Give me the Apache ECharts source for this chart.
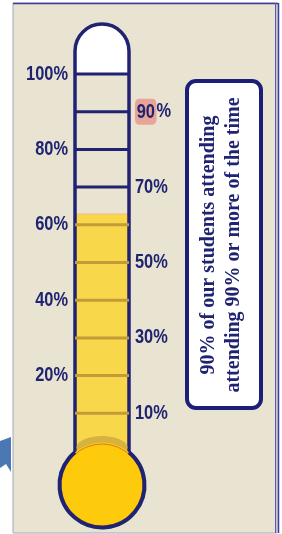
<!DOCTYPE html>
<html>
<head>
<meta charset="utf-8">
<title>Attendance thermometer</title>
<script src="https://cdn.jsdelivr.net/npm/echarts@6/dist/echarts.min.js"></script>
<style>
  html, body { margin: 0; padding: 0; background: #ffffff; }
  #main { width: 282px; height: 534px; }
</style>
</head>
<body>
<div id="main"></div>
<script>
// data
const category = ['Attendance'];
const fillValue = [63];
const tickValues = [10, 20, 30, 40, 50, 60, 70, 80, 90, 100];
const leftLabels = [20, 40, 60, 80, 100];
const rightLabels = [10, 30, 50, 70, 90];
const highlightLabel = 90;
const noteLines = ['90% of our students attending', 'attending 90% or more of the time'];

const NAVY = '#1F2372';
const OLIVE = '#C29C37';

const chart = echarts.init(document.getElementById('main'));

// glass: dome, tube sides, bulb
function renderFrame(params, api) {
  const cs = params.coordSys;
  const left = cs.x, right = cs.x + cs.width;
  const cx = cs.x + cs.width / 2;
  const half = cs.width / 2;
  const y100 = api.coord([0, 100])[1];
  const y0 = api.coord([0, 0])[1];
  const domeCy = y100 - 23;
  const bulbCy = y0 + 34;
  const bulbR = 42.5;
  const a = Math.asin(half / bulbR);
  return {
    type: 'group',
    children: [
      { type: 'rect', shape: { x: left, y: domeCy - half, width: cs.width, height: y100 - domeCy + half, r: [half, half, 0, 0] },
        style: { fill: '#ffffff' } },
      { type: 'arc', shape: { cx: cx, cy: domeCy, r: half, startAngle: Math.PI, endAngle: 2 * Math.PI },
        style: { stroke: NAVY, lineWidth: 3.5, fill: null } },
      { type: 'line', shape: { x1: left, y1: domeCy, x2: left, y2: bulbCy - 20 }, style: { stroke: NAVY, lineWidth: 3.5 } },
      { type: 'line', shape: { x1: right, y1: domeCy, x2: right, y2: bulbCy - 20 }, style: { stroke: NAVY, lineWidth: 3.5 } },
      // shadow at the neck
      { type: 'circle', shape: { cx: 0, cy: 0, r: half - 1.5 }, x: cx, y: bulbCy - bulbR + 5, scaleY: 0.45,
        style: { fill: '#D6B241' } },
      { type: 'circle', shape: { cx: cx, cy: bulbCy, r: bulbR }, style: { fill: '#FDCB0C' } },
      { type: 'circle', shape: { cx: cx, cy: bulbCy, r: bulbR - 1.5 }, style: { fill: null, stroke: '#D4542C', lineWidth: 1, opacity: 0.7 } },
      { type: 'arc', shape: { cx: cx, cy: bulbCy, r: bulbR, startAngle: -Math.PI / 2 + a, endAngle: 1.5 * Math.PI - a },
        style: { stroke: NAVY, lineWidth: 4, fill: null } }
    ]
  };
}

// one graduation line per tick value
function renderTick(params, api) {
  const cs = params.coordSys;
  const v = api.value(1);
  const y = api.coord([0, v])[1];
  return {
    type: 'line',
    shape: { x1: cs.x, y1: y, x2: cs.x + cs.width, y2: y },
    style: { stroke: v <= fillValue[0] ? OLIVE : NAVY, lineWidth: 3 }
  };
}

// percentage labels, condensed, on both sides of the tube
function renderLabel(params, api) {
  const cs = params.coordSys;
  const v = api.value(1);
  const onLeft = api.value(2) === 0;
  const y = api.coord([0, v])[1];
  const txt = v === highlightLabel ? '{hl|' + v + '}%' : v + '%';
  return {
    type: 'text',
    x: onLeft ? cs.x - 7 : cs.x + cs.width + 6,
    y: y,
    scaleX: 0.82,
    style: {
      text: txt, fill: NAVY,
      font: "bold 20px 'Liberation Sans', Arial, sans-serif",
      align: onLeft ? 'right' : 'left', verticalAlign: 'middle',
      rich: {
        hl: {
          fill: NAVY, font: "bold 20px 'Liberation Sans', Arial, sans-serif",
          backgroundColor: '#E8A597', borderRadius: 5, padding: [4, 2, 2, 2]
        }
      }
    }
  };
}

const option = {
  backgroundColor: '#ffffff',
  animation: false,
  grid: { left: 75, width: 54, top: 74, bottom: 83 },
  xAxis: { type: 'category', data: category, show: false },
  yAxis: {
    type: 'value', min: 0, max: 100, interval: 10, show: false
  },
  graphic: [
    { type: 'rect', z: -10, shape: { x: 13, y: 3, width: 264, height: 530 },
      style: { fill: '#E8E4D1', stroke: '#A6A4C2', lineWidth: 1 } },
    { type: 'line', z: -9, shape: { x1: 13, y1: 3.5, x2: 278, y2: 3.5 }, style: { stroke: '#3B3E9E', lineWidth: 1.5 } },
    { type: 'line', z: -9, shape: { x1: 275.5, y1: 3, x2: 275.5, y2: 533 }, style: { stroke: '#5A5CB0', lineWidth: 1 } },
    { type: 'line', z: -9, shape: { x1: 278.5, y1: 3, x2: 278.5, y2: 533 }, style: { stroke: '#3B3E9E', lineWidth: 1.5 } },
    { type: 'polygon', z: 5, shape: { points: [[0, 441], [11, 437], [11, 472], [6, 464], [0, 468]] },
      style: { fill: '#4B77B3' } },
    { type: 'rect', z: 5, shape: { x: 187, y: 81, width: 74, height: 327, r: 9 },
      style: { fill: '#ffffff', stroke: '#1C1F78', lineWidth: 4 } },
    { type: 'text', z: 6, x: 221, y: 245, rotation: Math.PI / 2,
      style: {
        text: noteLines.join('\n'), fill: NAVY,
        font: "bold 20px 'Liberation Serif', 'DejaVu Serif', serif",
        align: 'center', verticalAlign: 'middle', lineHeight: 25
      } }
  ],
  series: [
    {
      type: 'bar', data: fillValue, barWidth: '100%', z: 2,
      itemStyle: { color: '#F8D74B', borderColor: '#F1BE8C', borderWidth: 1 }
    },
    {
      type: 'custom', z: 3, renderItem: renderFrame,
      data: [[0, fillValue[0]]]
    },
    {
      type: 'custom', z: 5, renderItem: renderTick,
      data: tickValues.map(v => [0, v])
    },
    {
      type: 'custom', z: 5, renderItem: renderLabel,
      data: leftLabels.map(v => [0, v, 0]).concat(rightLabels.map(v => [0, v, 1]))
    }
  ]
};

chart.setOption(option);
</script>
</body>
</html>
